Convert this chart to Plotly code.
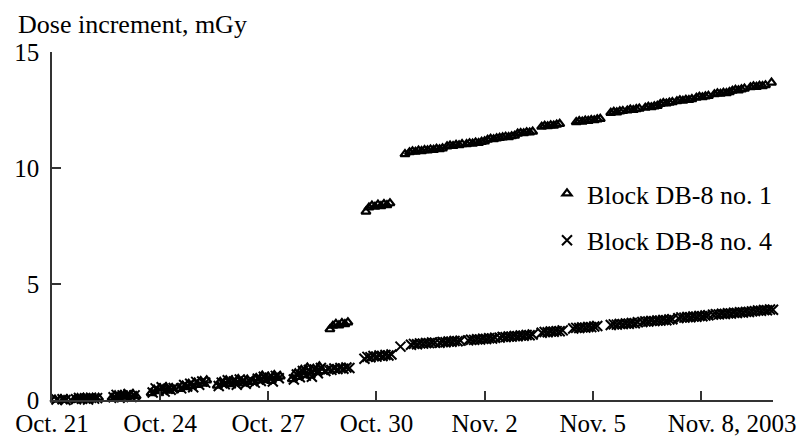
import pandas as pd
import plotly.graph_objects as go

# Hours elapsed since 2003-10-21 00:00 and accumulated dose (mGy), block no. 1
hours_db1 = [0, 2, 4, 6, 8, 10,
             15, 17, 19, 21, 23, 25, 27, 29, 31,
             40, 42, 44, 46, 48, 50, 52, 54, 56,
             66, 68, 70, 72, 74, 76, 78, 80,
             85, 87, 89, 91, 93, 95, 97, 99, 101, 103,
             110, 112, 114, 116, 118, 120, 122, 124, 126, 128, 130,
             134, 136, 138, 140, 142, 144, 146, 148, 150, 152,
             160, 162, 164, 166, 168, 170, 172, 174, 176, 178, 180,
             185, 187, 189, 191, 193, 195, 197,
             209, 211, 213, 215, 217, 219, 221, 223, 225,
             235,
             238, 240, 242, 244, 246, 248,
             250, 252, 254, 256, 258, 260,
             263, 265, 267, 269, 271, 273,
             276, 278, 280, 282, 284, 286, 288,
             290, 292, 294, 296, 298,
             300, 302, 304, 306, 308,
             310, 312, 314, 316, 318, 320,
             326, 328, 330, 332, 334, 336, 338,
             349, 351, 353, 355, 357, 359, 361, 363, 365,
             372, 374, 376, 378, 380,
             383, 385, 387, 389, 391,
             395, 397, 399, 401, 403,
             405, 407, 409, 411, 413,
             416, 418, 420, 422, 424, 426,
             429, 431, 433, 435, 437,
             441, 443, 445, 447, 449, 451,
             453, 455, 457, 459, 461,
             465, 467, 469, 471, 473, 475,
             479]
dose_db1 = [-0.05, 0.02, -0.03, 0.04, 0.0, 0.03,
            0.02, 0.08, 0.04, 0.1, 0.03, 0.07, 0.09, 0.05, 0.1,
            0.1, 0.2, 0.12, 0.18, 0.22, 0.14, 0.2, 0.25, 0.17,
            0.3, 0.45, 0.38, 0.5, 0.42, 0.55, 0.4, 0.52,
            0.48, 0.62, 0.55, 0.7, 0.6, 0.75, 0.65, 0.82, 0.7, 0.85,
            0.62, 0.78, 0.7, 0.85, 0.68, 0.82, 0.75, 0.9, 0.8, 0.72, 0.88,
            0.78, 0.95, 0.85, 1.05, 0.9, 1.0, 0.82, 1.08, 0.95, 1.02,
            0.9, 1.15, 1.0, 1.3, 1.1, 1.4, 1.05, 1.35, 1.2, 1.45, 1.25,
            3.05, 3.2, 3.28, 3.22, 3.32, 3.27, 3.35,
            8.12, 8.3, 8.38, 8.33, 8.42, 8.36, 8.45, 8.4, 8.48,
            10.6,
            10.68, 10.72, 10.7, 10.75, 10.73, 10.77,
            10.76, 10.8, 10.78, 10.83, 10.81, 10.85,
            10.93, 10.97, 10.95, 11.0, 10.98, 11.03,
            11.03, 11.07, 11.05, 11.1, 11.08, 11.13, 11.15,
            11.22, 11.26, 11.24, 11.28, 11.3,
            11.32, 11.35, 11.33, 11.37, 11.39,
            11.48, 11.51, 11.5, 11.54, 11.53, 11.57,
            11.78, 11.82, 11.8, 11.84, 11.83, 11.87, 11.9,
            11.98, 12.02, 12.0, 12.04, 12.03, 12.07, 12.06, 12.1, 12.12,
            12.38, 12.42, 12.4, 12.44, 12.46,
            12.48, 12.52, 12.5, 12.54, 12.56,
            12.6, 12.64, 12.62, 12.66, 12.68,
            12.76, 12.8, 12.78, 12.82, 12.84,
            12.88, 12.92, 12.9, 12.94, 12.93, 12.97,
            13.03, 13.07, 13.05, 13.09, 13.11,
            13.18, 13.22, 13.2, 13.24, 13.23, 13.27,
            13.33, 13.37, 13.35, 13.39, 13.42,
            13.48, 13.52, 13.5, 13.54, 13.53, 13.57,
            13.68]

# Same quantities for block no. 4
hours_db4 = [1, 3, 5, 7, 9,
             16, 18, 20, 22, 24, 26, 28, 30,
             41, 43, 45, 47, 49, 51, 53, 55,
             67, 69, 71, 73, 75, 77, 79, 81,
             86, 88, 90, 92, 94, 96, 98, 100, 102,
             111, 113, 115, 117, 119, 121, 123, 125, 127, 129, 131,
             135, 137, 139, 141, 143, 145, 147, 149, 151,
             161, 163, 165, 167, 169, 171, 173, 175, 177, 179,
             182, 184, 186, 188, 190, 192, 194, 196, 198,
             208, 210, 212, 214, 216, 218, 220, 222, 224, 226,
             232,
             239, 241, 243, 245, 247, 249, 251, 253, 255,
             258, 260, 262, 264, 266, 268, 270, 272,
             277, 279, 281, 283, 285, 287, 289, 291, 293, 295,
             298, 300, 302, 304, 306, 308, 310, 312, 314, 316, 318, 320,
             326, 328, 330, 332, 334, 336, 338, 340,
             347, 349, 351, 353, 355, 357, 359, 361, 363,
             372, 374, 376, 378, 380, 382, 384, 386, 388, 390,
             393, 395, 397, 399, 401, 403, 405, 407, 409, 411, 413,
             417, 419, 421, 423, 425, 427, 429, 431, 433, 435, 437,
             440, 442, 444, 446, 448, 450, 452, 454, 456, 458, 460, 462, 464, 466,
             468, 470, 472, 474, 476, 478, 480, 482, 484]
dose_db4 = [-0.04, 0.02, -0.02, 0.03, 0.0,
            0.03, 0.09, 0.05, 0.08, 0.02, 0.1, 0.06, 0.08,
            0.12, 0.22, 0.1, 0.2, 0.16, 0.26, 0.13, 0.2,
            0.32, 0.5, 0.4, 0.55, 0.36, 0.48, 0.44, 0.52,
            0.5, 0.65, 0.58, 0.7, 0.55, 0.78, 0.66, 0.8, 0.75,
            0.6, 0.75, 0.68, 0.85, 0.72, 0.8, 0.66, 0.88, 0.78, 0.7, 0.84,
            0.75, 0.92, 0.82, 1.0, 0.88, 0.96, 0.8, 1.04, 0.94,
            0.88, 1.1, 0.98, 1.25, 1.05, 1.3, 1.0, 1.32, 1.15, 1.38,
            1.25, 1.32, 1.3, 1.36, 1.33, 1.38, 1.35, 1.4, 1.38,
            1.78, 1.86, 1.84, 1.9, 1.87, 1.92, 1.89, 1.94, 1.92, 1.96,
            2.3,
            2.38, 2.42, 2.4, 2.44, 2.43, 2.46, 2.45, 2.48, 2.47,
            2.47, 2.5, 2.49, 2.52, 2.51, 2.54, 2.53, 2.56,
            2.57, 2.6, 2.59, 2.62, 2.61, 2.64, 2.63, 2.66, 2.65, 2.68,
            2.69, 2.72, 2.71, 2.74, 2.73, 2.76, 2.75, 2.78, 2.77, 2.8, 2.79, 2.82,
            2.9, 2.93, 2.92, 2.95, 2.94, 2.97, 2.96, 3.0,
            3.08, 3.11, 3.1, 3.13, 3.12, 3.15, 3.14, 3.17, 3.19,
            3.23, 3.26, 3.25, 3.28, 3.27, 3.3, 3.29, 3.32, 3.31, 3.35,
            3.36, 3.39, 3.38, 3.41, 3.4, 3.43, 3.42, 3.45, 3.44, 3.47, 3.48,
            3.53, 3.56, 3.55, 3.58, 3.57, 3.6, 3.59, 3.62, 3.61, 3.64, 3.65,
            3.68, 3.7, 3.69, 3.72, 3.71, 3.74, 3.73, 3.76, 3.75, 3.78, 3.77, 3.8, 3.79, 3.82,
            3.83, 3.86, 3.85, 3.88, 3.87, 3.9, 3.89, 3.92, 3.95]

tick_dates = ["2003-10-21", "2003-10-24", "2003-10-27", "2003-10-30",
              "2003-11-02", "2003-11-05", "2003-11-08"]
tick_labels = ["Oct. 21", "Oct. 24", "Oct. 27", "Oct. 30",
               "Nov. 2", "Nov. 5", "Nov. 8"]
y_ticks = [0, 5, 10, 15]

start = pd.Timestamp("2003-10-21 00:00")
t_db1 = start + pd.to_timedelta(hours_db1, unit="h")
t_db4 = start + pd.to_timedelta(hours_db4, unit="h")

FONT = "Liberation Serif"
FS_TICK = 25
FS_TEXT = 26

fig = go.Figure()
fig.add_trace(go.Scatter(
    x=t_db1, y=dose_db1, mode="markers", name="Block DB-8 no. 1",
    legendgroup="a", cliponaxis=False,
    marker=dict(symbol="triangle-up-open", size=8, color="black",
                line=dict(width=2.2, color="black")),
))
fig.add_trace(go.Scatter(
    x=t_db4, y=dose_db4, mode="markers", name="Block DB-8 no. 4",
    legendgroup="b", cliponaxis=False,
    marker=dict(symbol="x-thin-open", size=10, color="black",
                line=dict(width=2, color="black")),
))

axis_common = dict(showgrid=False, zeroline=False, showline=True,
                   linecolor="#333", linewidth=1.5, ticks="inside",
                   ticklen=9, tickwidth=1.5, tickcolor="#333",
                   tickfont=dict(family=FONT, size=FS_TICK, color="black"))

fig.update_xaxes(range=["2003-10-21", "2003-11-10"],
                 tickmode="array", tickvals=tick_dates, ticktext=tick_labels,
                 **axis_common)
fig.update_yaxes(range=[0, 15], tickmode="array", tickvals=y_ticks,
                 ticklabelstandoff=6, **axis_common)

fig.add_annotation(text="Dose increment, mGy", xref="paper", yref="paper",
                   x=-0.05, y=1.08, xanchor="left", yanchor="middle",
                   showarrow=False, font=dict(family=FONT, size=FS_TEXT, color="black"))
# year suffix continuing the last date label
fig.add_annotation(text=", 2003", xref="paper", yref="paper",
                   x=(733 - 52) / 721, y=0, yshift=-23, xanchor="left", yanchor="middle",
                   borderpad=0, showarrow=False,
                   font=dict(family=FONT, size=FS_TICK, color="black"))

fig.update_layout(
    width=804, height=437,
    margin=dict(l=52, r=31, t=52, b=37, autoexpand=False),
    paper_bgcolor="white", plot_bgcolor="white",
    font=dict(family=FONT, size=FS_TEXT, color="black"),
    legend=dict(x=(547 - 52) / 721, y=(400 - 170) / 348, xanchor="left", yanchor="top",
                bgcolor="rgba(0,0,0,0)", tracegroupgap=10,
                font=dict(family=FONT, size=FS_TEXT, color="black")),
)

fig.write_html("out.html")
